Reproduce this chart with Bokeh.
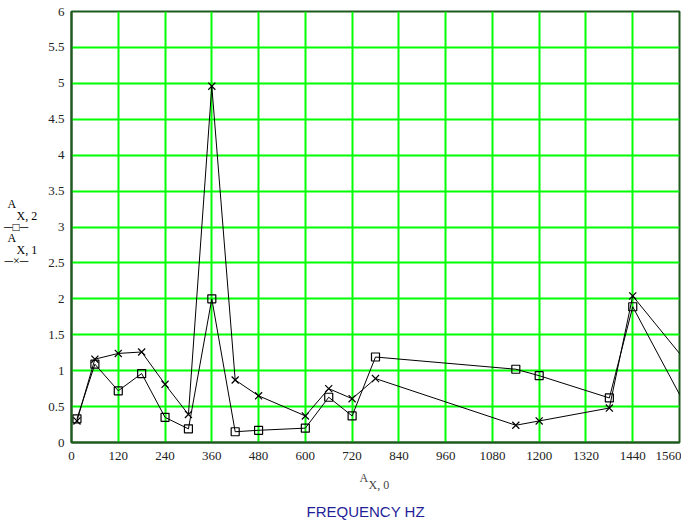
from bokeh.plotting import figure
from bokeh.models import Range1d, FixedTicker, Title, ColumnDataSource
from bokeh.embed import file_html
from bokeh.resources import INLINE

# ---- data ----
freq = [14, 60, 120, 180, 240, 300, 360, 420, 480, 600, 660, 720, 780,
        1140, 1200, 1380, 1440, 1620]
a_x1 = [0.30, 1.16, 1.24, 1.26, 0.81, 0.39, 4.96, 0.87, 0.65, 0.37, 0.75,
        0.61, 0.89, 0.24, 0.30, 0.48, 2.04, 0.84]
a_x2 = [0.33, 1.09, 0.72, 0.96, 0.35, 0.19, 2.00, 0.15, 0.17, 0.20, 0.63,
        0.37, 1.19, 1.02, 0.93, 0.62, 1.89, 0.06]
x_ticks = [0, 120, 240, 360, 480, 600, 720, 840, 960, 1080, 1200, 1320,
           1440, 1560]
y_ticks = [0, 0.5, 1, 1.5, 2, 2.5, 3, 3.5, 4, 4.5, 5, 5.5, 6]
y_tick_labels = ["0", "0.5", "1", "1.5", "2", "2.5", "3", "3.5", "4",
                 "4.5", "5", "5.5", "6"]
series_names = ["X, 2", "X, 1"]
series_marks = ["\u2500\u25a1\u2500", "\u2500\u00d7\u2500"]
x_name = "X, 0"
x_title = "FREQUENCY HZ"

NB = "\u00a0"
legend_lines = [NB, NB]
for name, mark in zip(series_names, series_marks):
    legend_lines += ["A" + NB * 7, name, mark + NB * 3]
legend_lines += [NB]
legend_text = "\n".join(legend_lines)

SERIF = "Liberation Serif"
GRID = "#00ff00"
AXIS = "#1e5a1e"

src = ColumnDataSource(dict(f=freq, a1=a_x1, a2=a_x2))

p = figure(width=681, height=522, output_backend="svg",
           toolbar_location=None,
           x_range=Range1d(0, 1560), y_range=Range1d(0, 6),
           min_border_left=70, min_border_right=2,
           min_border_top=11, min_border_bottom=80)
p.background_fill_color = "white"
p.border_fill_color = "white"
p.outline_line_color = AXIS
p.outline_line_width = 2

# axes
p.xaxis.ticker = FixedTicker(ticks=x_ticks)
p.yaxis.ticker = FixedTicker(ticks=y_ticks)
p.yaxis.major_label_overrides = {t: l for t, l in zip(y_ticks, y_tick_labels)}
for ax in (p.xaxis[0], p.yaxis[0]):
    ax.axis_line_color = AXIS
    ax.axis_line_width = 2
    ax.major_tick_in = 0
    ax.major_tick_out = 0
    ax.minor_tick_in = 0
    ax.minor_tick_out = 0
    ax.major_label_text_font = SERIF
    ax.major_label_text_font_size = "13px"
    ax.major_label_text_color = "#222222"
p.xaxis.major_label_standoff = 9
p.yaxis.major_label_standoff = 7

p.yaxis.axis_label = legend_text
p.yaxis.axis_label_orientation = "horizontal"
p.yaxis.axis_label_standoff = 8
p.yaxis.axis_label_text_font = SERIF
p.yaxis.axis_label_text_font_size = "12px"
p.yaxis.axis_label_text_line_height = 0.82
p.yaxis.axis_label_text_font_style = "normal"
p.yaxis.axis_label_text_color = "black"

# grid
for g in (p.xgrid[0], p.ygrid[0]):
    g.grid_line_color = GRID
    g.grid_line_width = 2
p.xgrid.ticker = FixedTicker(ticks=x_ticks)
p.ygrid.ticker = FixedTicker(ticks=y_ticks)

# series
p.line("f", "a2", source=src, line_color="black", line_width=1)
p.scatter("f", "a2", source=src, marker="square", size=8,
          fill_color=None, line_color="black", line_width=1.2)
p.line("f", "a1", source=src, line_color="black", line_width=1)
p.scatter("f", "a1", source=src, marker="x", size=10,
          line_color="black", line_width=1.2)

# texts below the x axis
p.add_layout(Title(text="A\n" + NB * 3 + x_name, align="left", offset=288,
                   standoff=13, text_font=SERIF, text_font_size="12px",
                   text_line_height=0.5, text_font_style="normal"), "below")
p.add_layout(Title(text=x_title, align="left", offset=235,
                   standoff=5, text_font="Liberation Sans",
                   text_font_size="15px", text_font_style="normal",
                   text_color="#1f1f99"), "below")

open("out.html", "w").write(file_html(p, INLINE))
